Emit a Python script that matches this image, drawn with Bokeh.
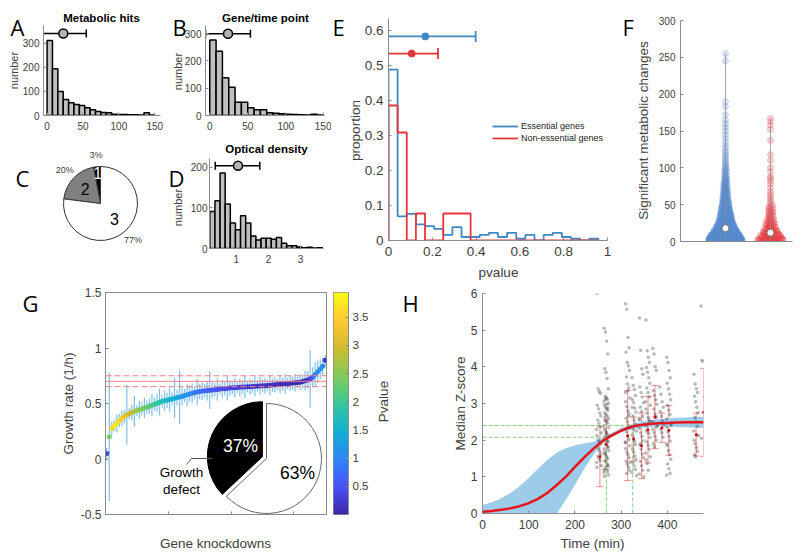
import numpy as np
from bokeh.plotting import figure
from bokeh.models import (Label, Legend, LegendItem, Span, Whisker, TeeHead, GridBox,
                          ColumnDataSource, LinearColorMapper, FixedTicker)
from bokeh.layouts import row, column
from bokeh.embed import file_html
from bokeh.resources import INLINE

# ======================= DATA =======================
# A: metabolic hits per knockdown
a_bin_width = 7.5
a_counts = [312, 194, 100, 67, 53, 46, 42, 32, 24, 17, 12, 11, 5, 4, 4, 3, 3, 2, 11, 2]
a_mean, a_sd = 22.6, 32.0

# B: hits per gene/time point
b_bin_width = 8.33
b_counts = [277, 236, 138, 104, 49, 49, 28, 21, 21, 10, 8, 6, 5, 4, 3, 2, 5, 2]
b_mean, b_sd = 24.0, 29.5

# C: pie of classes
c_names = ["1", "2", "3"]
c_pct = [3, 20, 77]

# D: optical density
d_bin_start, d_bin_width = 0.17, 0.16
d_counts = [91, 118, 186, 110, 63, 46, 81, 63, 31, 21, 25, 25, 23, 27, 13, 7, 7, 4, 2, 3, 1, 2]
d_mean, d_lo, d_hi = 1.05, 0.34, 1.73

# E: pvalue distributions
e_bin_width = 1 / 24
e_ess = [0.487, 0.069, 0.076, 0.046, 0.041, 0.033, 0.016, 0.038, 0.010, 0.010, 0.016, 0.022,
         0.010, 0.022, 0.005, 0.016, 0.0, 0.016, 0.022, 0.010, 0.005, 0.0, 0.005]
e_non = [0.385, 0.308, 0.0, 0.077, 0.0, 0.0, 0.077, 0.077, 0.077, 0.0, 0.0, 0.0,
         0.0, 0.0, 0.0, 0.0, 0.0, 0.0, 0.0, 0.0, 0.0, 0.0, 0.0]
e_names = ["Essential genes", "Non-essential genes"]
e_mean = [0.168, 0.106]
e_sd = [0.23, 0.12]

# F: significant metabolic changes (counts per 5-unit bin + sparse high values)
f_bin = 5
f_ess_counts = [170, 140, 105, 80, 62, 48, 40, 33, 27, 22, 18, 14, 12, 10, 9, 8, 6, 5, 4, 4]
f_ess_high = [101, 103, 105, 107, 109, 112, 114, 117, 120, 123, 127, 131, 135, 140, 145, 150,
              155, 160, 165, 172, 183, 190, 245, 255]
f_non_counts = [42, 30, 20, 14, 10, 8, 6, 5, 5, 4]
f_non_high = [52, 55, 58, 61, 64, 68, 73, 78, 82, 86, 88, 95, 100, 110, 118, 137, 152, 158, 163, 167]
f_median = [18, 12]

# G: growth rates of gene knockdowns (sorted), error, pvalue
g_rate = [0.05, 0.20, 0.275, 0.30, 0.322, 0.345, 0.367, 0.383, 0.398, 0.409,
          0.418, 0.43, 0.437, 0.444, 0.451, 0.459, 0.467, 0.475, 0.485, 0.494,
          0.503, 0.511, 0.518, 0.524, 0.529, 0.535, 0.541, 0.547, 0.553, 0.558,
          0.564, 0.571, 0.579, 0.585, 0.592, 0.598, 0.603, 0.608, 0.612, 0.615,
          0.618, 0.62, 0.622, 0.625, 0.627, 0.63, 0.632, 0.634, 0.637, 0.639,
          0.641, 0.643, 0.645, 0.646, 0.648, 0.649, 0.651, 0.652, 0.654, 0.655,
          0.657, 0.658, 0.66, 0.661, 0.663, 0.664, 0.666, 0.668, 0.671, 0.673,
          0.675, 0.678, 0.68, 0.682, 0.684, 0.687, 0.689, 0.692, 0.698, 0.704,
          0.712, 0.722, 0.737, 0.762, 0.787, 0.81, 0.835, 0.89]
g_err = [0.05, 0.58, 0.06, 0.05, 0.08, 0.06, 0.07, 0.06, 0.27, 0.05,
         0.07, 0.14, 0.05, 0.08, 0.06, 0.09, 0.06, 0.07, 0.10, 0.06,
         0.08, 0.12, 0.06, 0.09, 0.07, 0.11, 0.06, 0.18, 0.07, 0.24,
         0.08, 0.06, 0.10, 0.07, 0.09, 0.06, 0.12, 0.07, 0.08, 0.06,
         0.09, 0.17, 0.07, 0.06, 0.10, 0.05, 0.08, 0.06, 0.11, 0.07,
         0.06, 0.09, 0.05, 0.08, 0.06, 0.10, 0.05, 0.07, 0.06, 0.09,
         0.05, 0.08, 0.06, 0.07, 0.05, 0.09, 0.06, 0.07, 0.05, 0.08,
         0.06, 0.09, 0.05, 0.07, 0.06, 0.08, 0.05, 0.07, 0.06, 0.09,
         0.08, 0.26, 0.09, 0.11, 0.10, 0.09, 0.08, 0.05]
g_pval = [0.3, 2.4, 3.6, 3.75, 3.7, 3.6, 3.5, 3.3, 3.1, 2.95,
          2.85, 2.75, 2.65, 2.55, 2.45, 2.35, 2.3, 2.2, 2.1, 2.0,
          1.9, 1.85, 1.75, 1.7, 1.6, 1.55, 1.5, 1.45, 1.4, 1.3,
          1.2, 1.15, 1.1, 1.05, 1.0, 0.92, 0.85, 0.8, 0.75, 0.7,
          0.65, 0.6, 0.56, 0.52, 0.48, 0.45, 0.42, 0.4, 0.38, 0.36,
          0.34, 0.32, 0.3, 0.29, 0.28, 0.27, 0.26, 0.25, 0.24, 0.23,
          0.22, 0.21, 0.2, 0.19, 0.18, 0.17, 0.16, 0.15, 0.14, 0.13,
          0.12, 0.11, 0.1, 0.1, 0.09, 0.09, 0.08, 0.08, 0.08, 0.08,
          0.15, 0.3, 0.6, 0.9, 1.1, 1.2, 1.0, 0.15]
g_genes_per_point = 20
g_wt = 0.70
g_wt_band = [0.652, 0.75]
g_pie_pct = [37, 63]
g_pie_labels = ["37%", "63%"]
g_pval_max = 3.94

# H: median Z-score vs time
h_fit_t = [0, 20, 40, 60, 80, 100, 120, 140, 160, 180, 200, 220, 240, 260, 280, 300,
           320, 340, 360, 380, 400, 420, 440, 460, 478]
h_fit_z = [0.05, 0.07, 0.10, 0.14, 0.20, 0.28, 0.40, 0.56, 0.77, 1.00, 1.27, 1.53, 1.77,
           1.98, 2.13, 2.26, 2.36, 2.41, 2.44, 2.46, 2.47, 2.48, 2.49, 2.49, 2.49]
h_ci_hi = [0.23, 0.31, 0.41, 0.55, 0.74, 0.97, 1.22, 1.46, 1.66, 1.78, 1.86, 1.91, 1.96,
           2.06, 2.20, 2.33, 2.42, 2.49, 2.54, 2.57, 2.59, 2.61, 2.62, 2.63, 2.63]
h_ci_lo = [-0.10, -0.30, -0.60, -0.90, -1.10, -1.10, -0.90, -0.45, -0.02, 0.37, 0.78, 1.22,
           1.60, 1.92, 2.10, 2.22, 2.29, 2.33, 2.36, 2.37, 2.37, 2.36, 2.35, 2.34, 2.34]
h_thr_t = [268, 325]
h_thr_z = [2.08, 2.40]
h_times = [252, 268, 314, 328, 344, 358, 373, 388, 403, 462, 477]
h_vals = [
    [6.0, 3.4, 3.33, 3.28, 2.95, 2.86, 2.74, 2.66, 2.55, 2.46, 2.37, 2.29, 2.2, 2.12, 2.01,
     1.96, 1.9, 1.84, 1.76, 1.69, 1.61, 1.56, 1.5, 1.44, 1.39, 1.31, 1.26],
    [5.05, 4.95, 4.7, 4.35, 3.95, 3.85, 3.68, 3.4, 3.2, 3.16, 3.11, 3.06, 3.01, 2.96, 2.9,
     2.86, 2.81, 2.74, 2.7, 2.66, 2.6, 2.54, 2.51, 2.46, 2.41, 2.34, 2.31, 2.26, 2.21, 2.14,
     2.1, 2.06, 2.0, 1.95, 1.91, 1.86, 1.79, 1.76, 1.71, 1.64, 1.6, 1.56, 1.5, 1.44, 1.41,
     1.35, 1.29, 1.26, 1.2, 1.14, 1.11, 1.05, 1.01, 3.12, 2.98, 2.88, 2.62, 2.18, 1.98,
     1.82, 1.68, 1.52, 1.32, 1.18],
    [5.72, 5.57, 4.8, 4.52, 4.4, 4.12, 4.03, 3.9, 3.72, 3.53, 3.42, 3.3, 3.15, 3.05, 2.92,
     2.8, 2.72, 2.6, 2.5, 2.41, 2.33, 2.22, 2.1, 2.02, 1.93, 1.85, 1.77, 1.68, 1.6, 1.52,
     1.43, 1.35, 1.27, 1.18, 1.1, 3.35, 2.65, 1.95, 1.4],
    [3.7, 3.5, 3.38, 3.22, 3.1, 3.02, 2.88, 2.77, 2.66, 2.55, 2.44, 2.36, 2.25, 2.14, 2.06,
     1.97, 1.88, 1.76, 1.68, 1.57, 1.48, 1.39, 1.3, 1.2, 1.12, 1.03, 2.9, 2.3],
    [5.33, 4.45, 3.95, 3.8, 3.45, 3.3, 3.18, 3.02, 2.9, 2.78, 2.65, 2.55, 2.43, 2.32, 2.2,
     2.1, 1.98, 1.86, 1.75, 1.62, 1.52, 1.42, 1.3, 1.18, 1.08, 1.0, 2.6, 1.9],
    [5.28, 4.44, 4.26, 4.12, 3.98, 3.85, 3.7, 3.55, 3.42, 3.3, 3.18, 3.05, 2.95, 2.85, 2.74,
     2.62, 2.5, 2.4, 2.3, 2.18, 2.07, 1.96, 1.86, 1.75, 1.65, 1.55, 1.46, 1.36, 1.18, 2.55, 2.25],
    [4.5, 4.35, 4.0, 3.9, 3.35, 3.22, 3.1, 2.98, 2.85, 2.72, 2.62, 2.5, 2.4, 2.3, 2.2, 2.1,
     2.0, 1.9, 1.82, 2.65, 2.35],
    [3.45, 3.25, 3.05, 2.9, 2.78, 2.65, 2.52, 2.42, 2.3, 2.2, 2.08],
    [4.26, 4.12, 3.9, 3.7, 3.55, 3.4, 3.25, 3.1, 2.95, 2.82, 2.7, 2.58, 2.46, 2.35, 2.22, 2.1,
     1.98, 1.85, 1.72, 1.6, 1.48, 1.35, 1.22, 1.1, 1.04, 2.4, 1.9],
    [3.8, 3.53, 3.4, 3.3, 3.2, 3.05, 2.9, 2.75, 2.62, 2.5, 2.38, 2.25, 2.12, 2.0, 1.9, 1.8,
     1.7, 1.6, 1.54, 2.15],
    [5.66, 4.17, 4.15, 3.2, 2.05],
]
h_eb_t = [254, 268, 314, 327, 344, 358, 373, 388, 403, 462, 478]
h_eb_lo = [0.73, 1.20, 0.90, 1.43, 0.95, 1.38, 1.77, 1.94, 1.59, 1.57, 1.56]
h_eb_hi = [2.37, 2.55, 3.35, 2.63, 2.74, 3.19, 3.49, 2.74, 2.94, 2.74, 3.96]
h_eb_mid = [1.55, 1.88, 2.12, 2.03, 1.85, 2.28, 2.63, 2.34, 2.27, 2.15, 2.76]

# ======================= STYLE / LAYOUT =======================
FONT = "Liberation Sans"
LETTER_FONT = "Open Sans"
AX = "#8c8c8c"
TXT = "#404040"
BLUE = "#3f88c8"
RED = "#e8343a"
PARULA_ANCHORS = ["#3e26a8", "#4852f4", "#2e87f7", "#12b1d6", "#37c897",
                  "#80cc59", "#d1bb30", "#fec832", "#f9fb14"]
W, H = 800, 558


def make_palette(anchors, n=256):
    rgb = np.array([[int(c[i:i + 2], 16) for i in (1, 3, 5)] for c in anchors], float)
    pos = np.linspace(0, 1, len(anchors))
    out = []
    for t in np.linspace(0, 1, n):
        r, g, b = (np.interp(t, pos, rgb[:, k]) for k in range(3))
        out.append("#%02x%02x%02x" % (int(round(r)), int(round(g)), int(round(b))))
    return out


PARULA = make_palette(PARULA_ANCHORS)


def no_align(p):
    try:
        p.frame_align = False
    except Exception:
        pass


def make_fig(box, frame, xr, yr, **kw):
    bl, bt, bw, bh = box
    fl, ft, fr, fb = frame
    p = figure(width=bw, height=bh, x_range=xr, y_range=yr,
               output_backend="svg", toolbar_location=None,
               min_border_left=fl - bl, min_border_right=bl + bw - fr,
               min_border_top=ft - bt, min_border_bottom=bt + bh - fb, **kw)
    no_align(p)
    p.grid.visible = False
    p.outline_line_color = None
    p.background_fill_color = "white"
    p.border_fill_color = "white"
    for ax in p.axis:
        ax.axis_line_color = AX
        ax.major_tick_line_color = AX
        ax.major_tick_in = 3
        ax.major_tick_out = 0
        ax.minor_tick_line_color = None
        ax.major_label_text_font = FONT
        ax.major_label_text_color = TXT
    return p


def set_ticks(ax, vals, size, standoff):
    ax.ticker = FixedTicker(ticks=list(vals))
    ax.major_label_overrides = {v: ("%g" % v) for v in vals}
    ax.major_label_text_font_size = "%gpx" % size
    ax.major_label_standoff = standoff


# transparent overlay figure spanning the whole page, for texts that sit outside frames
ov = figure(width=W, height=H, x_range=(0, W), y_range=(H, 0), output_backend="svg",
            toolbar_location=None, min_border=0, x_axis_type=None, y_axis_type=None)
no_align(ov)
ov.grid.visible = False
ov.outline_line_color = None
ov.background_fill_color = None
ov.border_fill_color = None


def otxt(x, y, text, size, color=TXT, angle=0.0, align="center", baseline="middle",
         font=FONT, style="normal"):
    ov.add_layout(Label(x=x, y=y, text=text, text_font_size="%gpx" % size,
                        text_color=color, angle=angle, text_align=align,
                        text_baseline=baseline, text_font=font, text_font_style=style))


def letter(x, y, text):
    otxt(x, y, text, 22, color="black", align="left", baseline="alphabetic", font=LETTER_FONT)


def txt(p, frame, x, y, text, size, color=TXT, align="center", baseline="middle"):
    fl, ft, fr, fb = frame
    p.add_layout(Label(x=x - fl, y=fb - y, x_units="screen", y_units="screen",
                       text=text, text_font_size="%gpx" % size, text_color=color,
                       text_align=align, text_baseline=baseline, text_font=FONT))


def hist(p, start, width, counts):
    edges = start + width * np.arange(len(counts) + 1)
    p.quad(left=edges[:-1], right=edges[1:], bottom=0, top=counts,
           fill_color="#bfbfbf", line_color="black", line_width=1.5)


def summary(p, y, mean, lo, hi):
    p.segment(x0=[lo], y0=[y], x1=[hi], y1=[y], line_color="black", line_width=1.5)
    p.scatter(x=[lo, hi], y=[y, y], marker="dash", angle=np.pi / 2, size=8,
              line_color="black", line_width=1.5)
    p.scatter(x=[mean], y=[y], size=9, fill_color="#b3b3b3", line_color="black",
              line_width=1.5)


# ---------------- A ----------------
frA = (43, 25, 160, 115)
pA = make_fig((0, 0, 170, 136), frA, (-5, 158), (0, 374))
hist(pA, 0, a_bin_width, a_counts)
summary(pA, 341, a_mean, a_mean - a_sd, a_mean + a_sd)
set_ticks(pA.xaxis[0], [0, 50, 100, 150], 10, 6)
set_ticks(pA.yaxis[0], [0, 100, 200, 300], 10, 4)
letter(10, 26, "A")
otxt(101, 17, "Metabolic hits", 11.5, color="black", style="bold")
otxt(13, 70, "number", 11, angle=np.pi / 2)

# ---------------- B ----------------
frB = (205, 25, 324, 115)
pB = make_fig((170, 0, 161, 136), frB, (-5.6, 151), (0, 330))
hist(pB, 0, b_bin_width, b_counts)
summary(pB, 300, b_mean, b_mean - b_sd, b_mean + b_sd)
set_ticks(pB.xaxis[0], [0, 50, 100, 150], 10, 6)
set_ticks(pB.yaxis[0], [0, 100, 200, 300], 10, 4)
letter(172, 26, "B")
otxt(265, 17, "Gene/time point", 11.5, color="black", style="bold")
otxt(177, 71, "number", 11, angle=np.pi / 2)

# ---------------- C ----------------
frC = (0, 136, 170, 282)
pC = make_fig((0, 136, 170, 146), frC, (-100, 70), (-79, 67),
              x_axis_type=None, y_axis_type=None)
c_frac = np.array(c_pct) / sum(c_pct)
c_end = np.pi / 2 + 2 * np.pi * np.cumsum(c_frac)
c_start = c_end - 2 * np.pi * c_frac
pC.wedge(x=0, y=0, radius=37, radius_units="screen", start_angle=c_start, end_angle=c_end,
         fill_color=["black", "#808080", "white"], line_color="#333333", line_width=1)
c_mid = (c_start + c_end) / 2
c_cx, c_cy = 100, 203  # pie centre on the page
for name, pct, ang, rin, col in zip(c_names, c_pct, c_mid, [31, 21, 21],
                                    ["white", "black", "black"]):
    txt(pC, frC, c_cx + rin * np.cos(ang), c_cy - rin * np.sin(ang), name, 16, color=col)
    txt(pC, frC, c_cx + 49 * np.cos(ang), c_cy - 49 * np.sin(ang), "%d%%" % pct, 9)
letter(15, 177, "C")

# ---------------- D ----------------
frD = (209, 158, 323, 248)
pD = make_fig((170, 136, 161, 146), frD, (0.16, 3.72), (0, 222))
hist(pD, d_bin_start, d_bin_width, d_counts)
summary(pD, 204, d_mean, d_lo, d_hi)
set_ticks(pD.xaxis[0], [1, 2, 3], 10, 6)
set_ticks(pD.yaxis[0], [0, 100, 200], 10, 2)
letter(168, 177, "D")
otxt(266, 148, "Optical density", 11.5, color="black", style="bold")
otxt(177, 207, "number", 11, angle=np.pi / 2)

# ---------------- E ----------------
frE = (388, 18, 607, 240)
pE = make_fig((331, 0, 287, 282), frE, (0, 1.0), (0, 0.633))


def stairs(vals):
    edges = e_bin_width * np.arange(len(vals) + 1)
    xs = np.concatenate([[0.0], edges])
    ys = np.concatenate([[0.0], vals, [0.0]])
    return xs, ys


r_items = []
for vals, col in ((e_ess, BLUE), (e_non, RED)):
    xs, ys = stairs(vals)
    r_items.append(pE.step(xs, ys, mode="after", line_color=col, line_width=1.8))
for yb, m, s, col in zip([0.582, 0.533], e_mean, e_sd, (BLUE, RED)):
    pE.segment(x0=[m - s], y0=[yb], x1=[m + s], y1=[yb], line_color=col, line_width=1.8)
    pE.scatter(x=[m - s, m + s], y=[yb, yb], marker="dash", angle=np.pi / 2, size=11,
               line_color=col, line_width=1.8)
    pE.scatter(x=[m], y=[yb], size=7, fill_color=col, line_color=col)
legE = Legend(items=[LegendItem(label=n, renderers=[r]) for n, r in zip(e_names, r_items)],
              location=(104, 96), label_text_font_size="9px", label_text_font=FONT,
              label_text_color="#222222", glyph_width=26, glyph_height=12, label_height=12,
              spacing=0, padding=0, margin=0, border_line_color=None,
              background_fill_alpha=0, label_standoff=3)
pE.add_layout(legE)
set_ticks(pE.xaxis[0], [0, 0.2, 0.4, 0.6, 0.8, 1], 13.5, 6)
set_ticks(pE.yaxis[0], [0, 0.1, 0.2, 0.3, 0.4, 0.5, 0.6], 13.5, 5)
letter(332, 26, "E")
otxt(355, 130, "proportion", 13.5, angle=np.pi / 2)
otxt(498, 272, "pvalue", 13.5)

# ---------------- F ----------------
frF = (680, 20, 792, 241)
pF = make_fig((618, 0, 182, 282), frF, (0, 2.49), (0, 300))
PXF = 45.0


def swarm(center, counts, binw, high, wmax):
    nmax = max(counts)
    xs, ys = [], []
    for b, n in enumerate(counts):
        w = wmax * (n / nmax) ** 0.7
        for k in range(n):
            u = ((k * 0.6180339887 + 0.31) % 1.0) * 2 - 1
            v = (k * 0.7548776662 + 0.13) % 1.0
            xs.append(center + u * w / PXF)
            ys.append(b * binw + v * binw)
    for val in high:
        xs.append(center)
        ys.append(val)
    return xs, ys


for ci, (cnts, high, col, wmax) in enumerate(((f_ess_counts, f_ess_high, "#5b8bd0", 17),
                                               (f_non_counts, f_non_high, "#e8454b", 13))):
    xs, ys = swarm(ci + 1, cnts, f_bin, high, wmax)
    pF.scatter(xs, ys, size=6, fill_color=col, line_color=col, fill_alpha=0.22, line_alpha=0.25)
    pF.segment(x0=[ci + 1], y0=[0], x1=[ci + 1], y1=[max(ys)], line_color="#8c8c8c",
               line_width=1, line_alpha=0.8)
pF.scatter([1, 2], f_median, size=7, fill_color="white", line_color="#777777", line_width=1)
pF.xaxis[0].ticker = FixedTicker(ticks=[])
set_ticks(pF.yaxis[0], [0, 50, 100, 150, 200, 250, 300], 10, 5)
letter(622, 26, "F")
otxt(643, 130, "Significant metabolic changes", 13.5, angle=np.pi / 2)

# ---------------- G ----------------
frG = (105, 292, 326, 514)
g_n = len(g_rate)
g_xmax = 1760
pG = make_fig((0, 282, 330, 276), frG, (0, g_xmax), (-0.5, 1.5))
pG.outline_line_color = AX
mapper = LinearColorMapper(palette=PARULA, low=0, high=g_pval_max)
g_x = g_genes_per_point * np.arange(g_n) + g_genes_per_point / 2
g_r = np.array(g_rate)
g_e = np.array(g_err)
srcG = ColumnDataSource(dict(x=g_x, r=g_r, lo=g_r - g_e, hi=g_r + g_e, p=g_pval))
pG.segment(x0="x", y0="lo", x1="x", y1="hi", source=srcG, line_color="#4aa3df",
           line_width=1.2, line_alpha=0.7)
pG.scatter("x", "r", source=srcG, size=5, fill_color={"field": "p", "transform": mapper},
           line_color=None)
pG.add_layout(Span(location=g_wt, dimension="width", line_color="#f08080", line_width=1))
for lv in g_wt_band:
    pG.add_layout(Span(location=lv, dimension="width", line_color="#f08080", line_width=1,
                       line_dash="6 3"))


def g_data(px, py):
    return ((px - frG[0]) / (frG[2] - frG[0]) * g_xmax,
            1.5 - (py - frG[1]) / (frG[3] - frG[1]) * 2.0)


g_frac = np.array(g_pie_pct) / sum(g_pie_pct)
g_end = np.pi / 2 + 2 * np.pi * np.cumsum(g_frac)
g_start = g_end - 2 * np.pi * g_frac
g_mid0 = (g_start[0] + g_end[0]) / 2
cx, cy = g_data(266, 458)
ex = 4.5 * np.cos(g_mid0) * g_xmax / 221
ey = 4.5 * np.sin(g_mid0) * 2.0 / 222
pG.wedge(x=[cx + ex, cx], y=[cy + ey, cy], radius=55, radius_units="screen",
         start_angle=g_start, end_angle=g_end, fill_color=["black", "white"],
         line_color=["black", "#666666"], line_width=1)
lx, ly = zip(g_data(186, 464), g_data(191, 458), g_data(212, 458))
pG.line(list(lx), list(ly), line_color="#555555", line_width=1)
txt(pG, frG, 240, 445, g_pie_labels[0], 17.5, color="white")
txt(pG, frG, 297, 472, g_pie_labels[1], 17.5, color="black")
txt(pG, frG, 181, 472, "Growth", 13.5, color="black")
txt(pG, frG, 181, 489, "defect", 13.5, color="black")
# unlabeled gene-rank ticks
pG.xaxis[0].ticker = FixedTicker(ticks=[], minor_ticks=[500, 1000, 1500])
pG.xaxis[0].minor_tick_line_color = AX
pG.xaxis[0].minor_tick_in = 3
pG.xaxis[0].minor_tick_out = 0
set_ticks(pG.yaxis[0], [-0.5, 0, 0.5, 1, 1.5], 12, 4)
letter(22, 302, "G")
otxt(68, 403, "Growth rate (1/h)", 13.5, angle=np.pi / 2)
otxt(215, 543, "Gene knockdowns", 13.5)

# colorbar
frCB = (333, 292, 348, 514)
pCB = make_fig((330, 282, 70, 276), frCB, (0, 1), (0, g_pval_max),
               x_axis_type=None, y_axis_location="right")
pCB.outline_line_color = AX
grad = np.linspace(0, g_pval_max, 256).reshape(-1, 1)
pCB.image(image=[grad], x=0, y=0, dw=1, dh=g_pval_max, color_mapper=mapper)
set_ticks(pCB.yaxis[0], [0.5, 1, 1.5, 2, 2.5, 3, 3.5], 11.5, 4)
otxt(383, 401, "Pvalue", 13.5, angle=np.pi / 2)

# ---------------- H ----------------
frH = (482, 293, 703, 513)
pH = make_fig((400, 282, 400, 276), frH, (0, 478), (0, 6))
pH.varea(x=h_fit_t, y1=h_ci_lo, y2=h_ci_hi, fill_color="#9dcbea", fill_alpha=1.0)
jit = [-4.5, -2.0, 0.5, 3.0, -3.5, -1.0, 1.5, 4.0, -2.5, 0.0, 2.5, -5.0, 5.0]
hx, hy = [], []
for t, vals in zip(h_times, h_vals):
    for k, v in enumerate(vals):
        hx.append(t + jit[k % len(jit)])
        hy.append(v)
pH.scatter(hx, hy, size=3.5, fill_color="black", line_color=None, fill_alpha=0.28)
for t, z in zip(h_thr_t, h_thr_z):
    pH.segment(x0=[0, t], y0=[z, 0], x1=[t, t], y1=[z, z], line_color="#7fcf7f",
               line_width=1, line_dash="4 2")
srcH = ColumnDataSource(dict(t=h_eb_t, lo=h_eb_lo, hi=h_eb_hi, mid=h_eb_mid))
pH.add_layout(Whisker(source=srcH, base="t", upper="hi", lower="lo", dimension="height",
                      line_color="#f07070", line_alpha=0.8, line_width=1,
                      upper_head=TeeHead(size=7, line_color="#f07070", line_alpha=0.8),
                      lower_head=TeeHead(size=7, line_color="#f07070", line_alpha=0.8)))
pH.scatter("t", "mid", source=srcH, size=3, fill_color="#d01010", line_color=None)
pH.line(h_fit_t, h_fit_z, line_color="#e8141c", line_width=2.5)
set_ticks(pH.xaxis[0], [0, 100, 200, 300, 400], 12, 6)
set_ticks(pH.yaxis[0], [0, 1, 2, 3, 4, 5, 6], 12, 5)
letter(402, 302, "H")
otxt(460, 403, "Median Z-score", 13.5, angle=np.pi / 2)
otxt(592, 543, "Time (min)", 13.5)

main = column(row(column(pA, pC), column(pB, pD), pE, pF), row(pG, pCB, pH))
page = GridBox(children=[(main, 0, 0), (ov, 0, 0)])
open("out.html", "w").write(file_html(page, INLINE))
